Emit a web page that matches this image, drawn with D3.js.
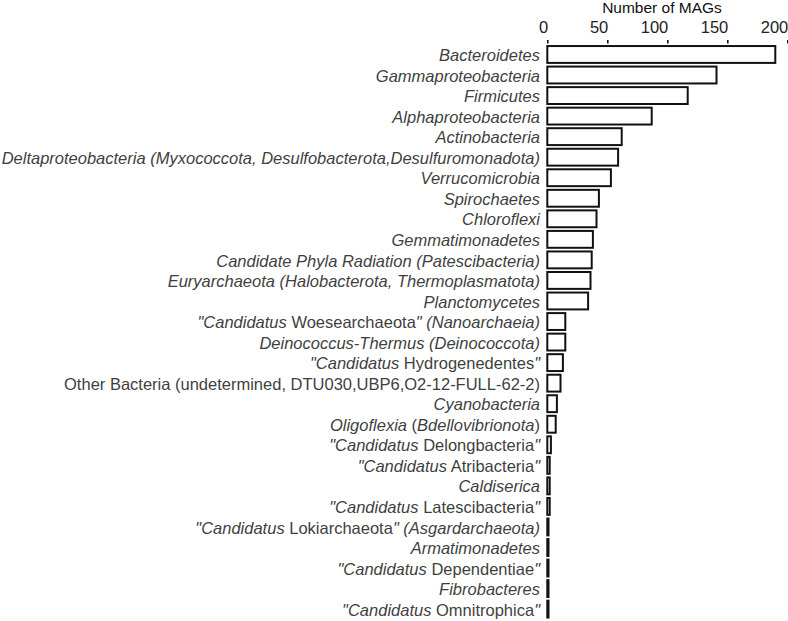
<!DOCTYPE html>
<html>
<head>
<meta charset="utf-8">
<script src="https://cdn.jsdelivr.net/npm/d3@7"></script>
<style>
  html, body { margin: 0; padding: 0; background: #fff; }
  svg { display: block; }
  text { white-space: pre; }
</style>
</head>
<body>
<svg id="chart" width="788" height="621"></svg>
<script>
// Labels: segments between "_" markers are italic
const categories = [
  "_Bacteroidetes_",
  "_Gammaproteobacteria_",
  "_Firmicutes_",
  "_Alphaproteobacteria_",
  "_Actinobacteria_",
  "_Deltaproteobacteria (Myxococcota, Desulfobacterota,Desulfuromonadota)_",
  "_Verrucomicrobia_",
  "_Spirochaetes_",
  "_Chloroflexi_",
  "_Gemmatimonadetes_",
  "_Candidate Phyla Radiation (Patescibacteria)_",
  "_Euryarchaeota (Halobacterota, Thermoplasmatota)_",
  "_Planctomycetes_",
  "_\"Candidatus_ Woesearchaeota_\" (Nanoarchaeia)_",
  "_Deinococcus-Thermus (Deinococcota)_",
  "_\"Candidatus_ Hydrogenedentes_\"_",
  "Other Bacteria (undetermined, DTU030,UBP6,O2-12-FULL-62-2)",
  "_Cyanobacteria_",
  "_Oligoflexia_ (_Bdellovibrionota_)",
  "_\"Candidatus_ Delongbacteria_\"_",
  "_\"Candidatus_ Atribacteria_\"_",
  "_Caldiserica_",
  "_\"Candidatus_ Latescibacteria_\"_",
  "_\"Candidatus_ Lokiarchaeota_\" (Asgardarchaeota)_",
  "_Armatimonadetes_",
  "_\"Candidatus_ Dependentiae_\"_",
  "_Fibrobacteres_",
  "_\"Candidatus_ Omnitrophica_\"_"
];
const mags = [190, 141, 117, 87, 62, 59, 53, 43, 41, 38, 37, 36, 34, 15, 15, 13, 11, 8, 7, 3, 2, 2, 2, 1, 1, 1, 1, 1];
const tickValues = [0, 50, 100, 150, 200];
const axisTitle = "Number of MAGs";

const data = categories.map((c, i) => ({ id: i, label: c, value: mags[i] }));

const svg = d3.select("#chart");
const font = "'Liberation Sans', Arial, Helvetica, sans-serif";

const x = d3.scaleLinear().domain([0, 200]).range([547.3, 787.3]);
const y = d3.scaleBand()
  .domain(data.map(d => d.id))
  .range([44.2, 619.4])
  .paddingInner(0.13)
  .paddingOuter(0.065);

// Top axis
const axisY = 43.5;
const axisG = svg.append("g")
  .attr("transform", `translate(0,${axisY})`)
  .call(d3.axisTop(x).tickValues(tickValues).tickSize(3.5).tickPadding(6.7));
axisG.select(".domain").remove();
axisG.selectAll(".tick line").attr("stroke", "#111").attr("stroke-width", 1.6);
axisG.selectAll(".tick text")
  .attr("text-anchor", "end")
  .attr("x", 0.5)
  .attr("font-family", font)
  .attr("font-size", 16.5)
  .attr("fill", "#222");

svg.append("text")
  .attr("x", 662)
  .attr("y", 12.5)
  .attr("text-anchor", "middle")
  .attr("font-family", font)
  .attr("font-size", 15.5)
  .attr("fill", "#111")
  .text(axisTitle);

// Bars
svg.append("g").selectAll("rect")
  .data(data)
  .join("rect")
  .attr("x", x(0))
  .attr("y", d => y(d.id) + 0.5)
  .attr("width", d => Math.max(0.01, x(d.value) - x(0)))
  .attr("height", y.bandwidth() - 1)
  .attr("fill", "#fff")
  .attr("stroke", "#111")
  .attr("stroke-width", 2);

// Labels
const labels = svg.append("g").selectAll("text")
  .data(data)
  .join("text")
  .attr("x", 540)
  .attr("y", d => y(d.id) + y.bandwidth() / 2)
  .attr("dy", "0.4em")
  .attr("text-anchor", "end")
  .attr("font-family", font)
  .attr("font-size", 16.5)
  .attr("fill", "#3f3f3f");

labels.each(function(d) {
  const parts = d.label.split("_");
  const t = d3.select(this);
  parts.forEach((p, i) => {
    if (!p) return;
    t.append("tspan")
      .attr("font-style", i % 2 === 1 ? "italic" : "normal")
      .text(p);
  });
});
</script>
</body>
</html>
